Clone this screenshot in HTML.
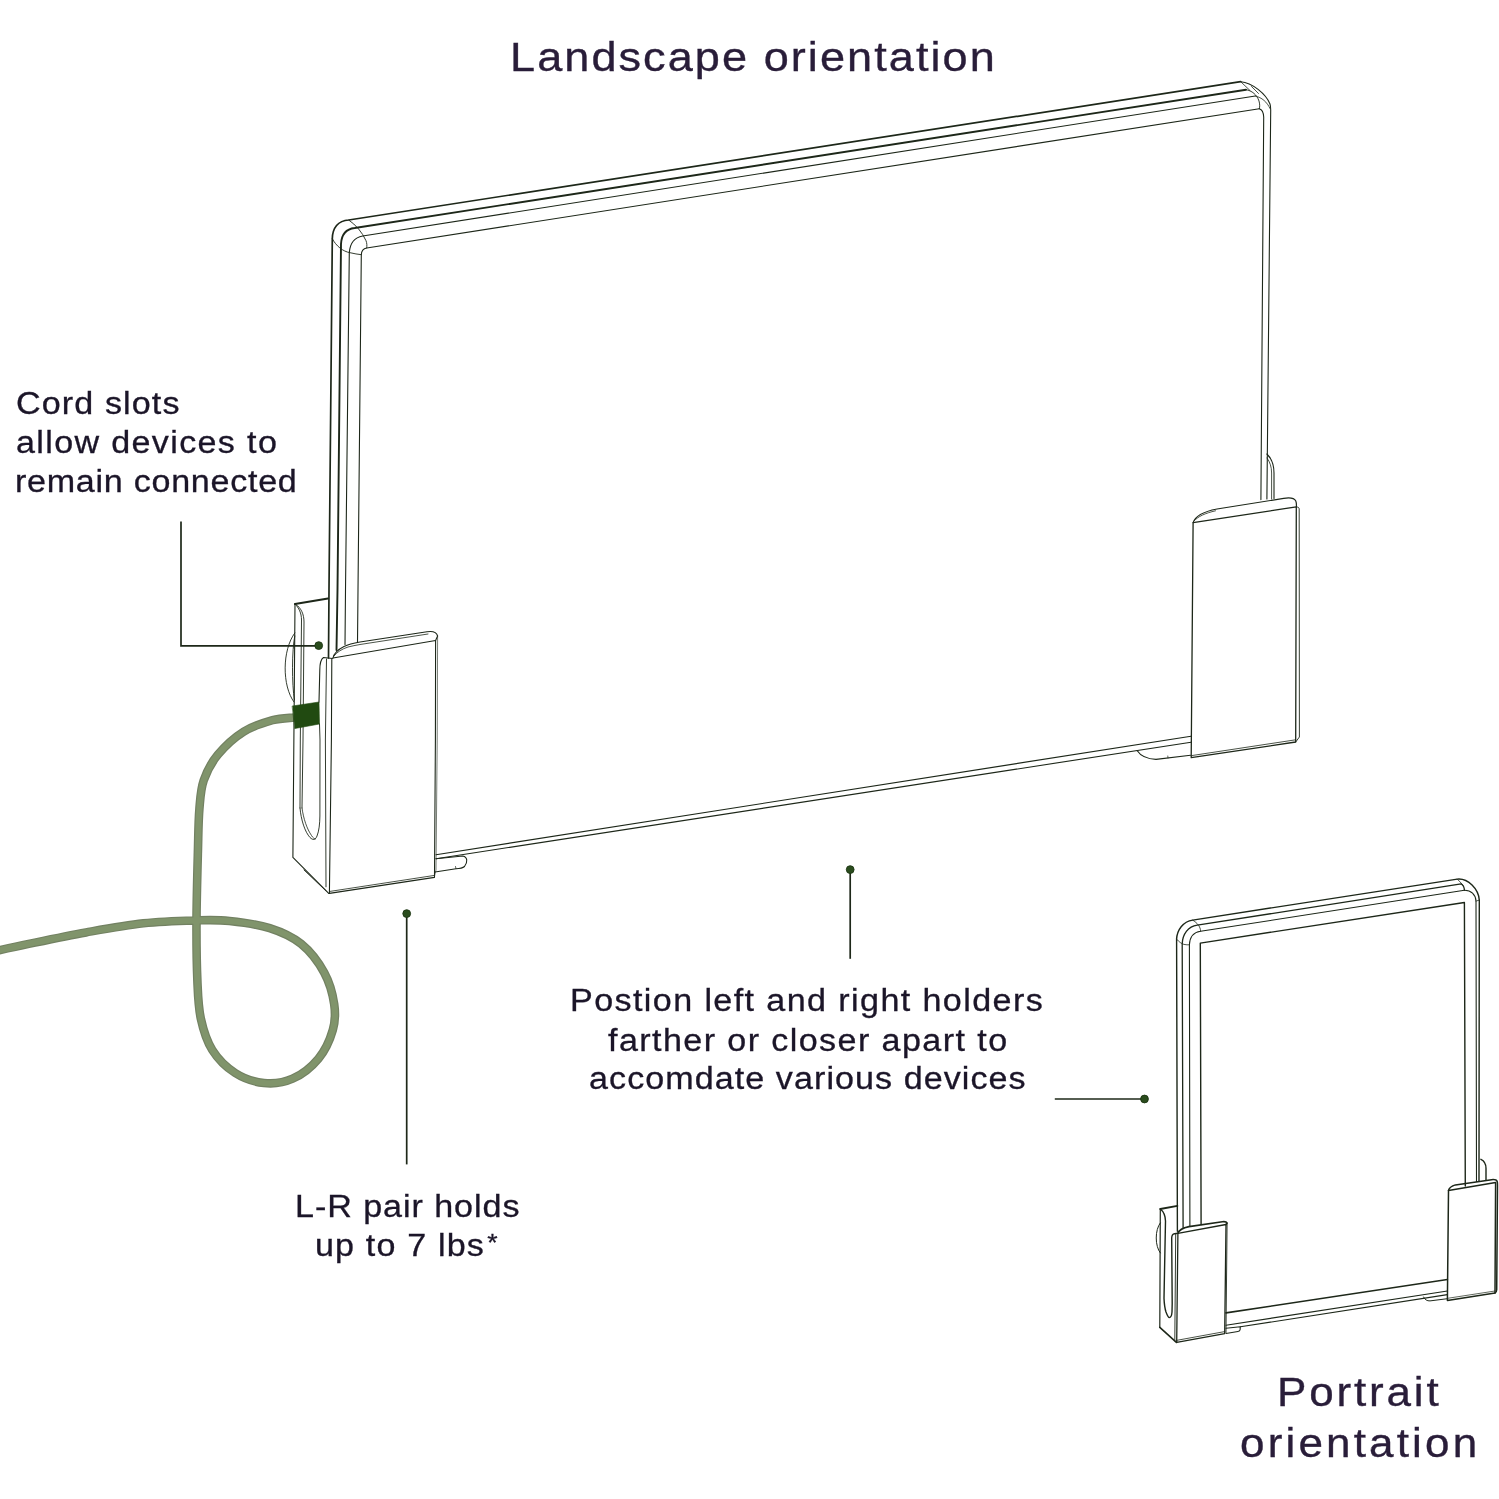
<!DOCTYPE html>
<html>
<head>
<meta charset="utf-8">
<title>Device holder orientations</title>
<style>
html,body{margin:0;padding:0;background:#fff;}
body{width:1499px;height:1499px;position:relative;overflow:hidden;font-family:"Liberation Sans",sans-serif;color:#261c38;}
svg{position:absolute;left:0;top:0;}
.t{position:absolute;white-space:nowrap;line-height:1;transform:scaleX(1.10);transform-origin:0 0;will-change:transform;}
.h{font-size:41px;color:#291d39;-webkit-text-stroke:0.35px #291d39;}
.b{font-size:31px;color:#1b1528;-webkit-text-stroke:0.3px #1b1528;}
</style>
</head>
<body>
<svg width="1499" height="1499" viewBox="0 0 1499 1499">
<g id="cable">
<path d="M294.0 717.5 C290.4 718.0 280.9 717.9 272.5 720.2 C264.1 722.6 252.9 725.9 243.8 731.6 C234.7 737.3 224.7 746.5 218.0 754.6 C211.3 762.7 206.8 771.3 203.7 780.4 C200.6 789.5 200.4 797.1 199.4 809.0 C198.4 820.9 198.4 833.3 197.9 852.0 C197.4 870.7 196.6 899.5 196.5 921.0 C196.4 942.5 196.7 965.0 197.4 981.2 C198.1 997.5 198.3 1007.0 200.8 1018.5 C203.3 1030.0 206.6 1040.9 212.3 1050.0 C218.0 1059.1 226.6 1067.5 235.2 1073.0 C243.8 1078.5 254.3 1082.0 263.9 1083.0 C273.5 1084.0 283.5 1082.8 292.6 1078.7 C301.7 1074.7 311.7 1066.8 318.4 1058.7 C325.1 1050.6 330.2 1039.1 332.8 1030.0 C335.4 1020.9 335.6 1013.8 334.2 1004.2 C332.8 994.6 329.7 982.7 324.2 972.6 C318.7 962.5 310.3 951.3 301.2 943.9 C292.1 936.5 281.6 931.9 269.7 928.1 C257.8 924.3 241.7 922.3 229.5 921.0 C217.3 919.7 210.8 920.0 196.5 920.4 C182.2 920.8 161.8 921.3 143.4 923.3 C125.0 925.3 105.1 929.0 86.0 932.4 C66.9 935.8 44.0 940.7 28.7 943.9 C13.4 947.1 -0.2 950.2 -6.0 951.5" fill="none" stroke="#728162" stroke-width="8.6" stroke-linecap="butt"/>
<path d="M294.0 717.5 C290.4 718.0 280.9 717.9 272.5 720.2 C264.1 722.6 252.9 725.9 243.8 731.6 C234.7 737.3 224.7 746.5 218.0 754.6 C211.3 762.7 206.8 771.3 203.7 780.4 C200.6 789.5 200.4 797.1 199.4 809.0 C198.4 820.9 198.4 833.3 197.9 852.0 C197.4 870.7 196.6 899.5 196.5 921.0 C196.4 942.5 196.7 965.0 197.4 981.2 C198.1 997.5 198.3 1007.0 200.8 1018.5 C203.3 1030.0 206.6 1040.9 212.3 1050.0 C218.0 1059.1 226.6 1067.5 235.2 1073.0 C243.8 1078.5 254.3 1082.0 263.9 1083.0 C273.5 1084.0 283.5 1082.8 292.6 1078.7 C301.7 1074.7 311.7 1066.8 318.4 1058.7 C325.1 1050.6 330.2 1039.1 332.8 1030.0 C335.4 1020.9 335.6 1013.8 334.2 1004.2 C332.8 994.6 329.7 982.7 324.2 972.6 C318.7 962.5 310.3 951.3 301.2 943.9 C292.1 936.5 281.6 931.9 269.7 928.1 C257.8 924.3 241.7 922.3 229.5 921.0 C217.3 919.7 210.8 920.0 196.5 920.4 C182.2 920.8 161.8 921.3 143.4 923.3 C125.0 925.3 105.1 929.0 86.0 932.4 C66.9 935.8 44.0 940.7 28.7 943.9 C13.4 947.1 -0.2 950.2 -6.0 951.5" fill="none" stroke="#80946b" stroke-width="6.2" stroke-linecap="butt"/>
</g>
<g id="landscape" fill="none" stroke="#1d2719" stroke-width="1.1" stroke-linecap="round" stroke-linejoin="round">
<!-- back plate of left holder -->
<path d="M295 604 L328 598.5" stroke-width="2"/>
<path d="M295 604 L292.9 857.4 L328.7 893.4"/>
<path d="M304 870 L326 890.8" stroke-width="0.9"/>
<path d="M295 604 C299 608 301.5 613 301.5 620 L300.3 740 L300 808" stroke-width="0.9"/>
<path d="M296 604.5 C301 608 304 614 304 622 L303 740 L302 808" stroke-width="0.9"/>
<!-- slot -->
<path d="M300 808 C301 820 305 832 310 837.5 C313 840.5 315.5 840 317 836 C319 831 319.8 824 319.9 816 L320 740 L319.5 724" stroke-width="0.9"/>
<path d="M302 808 C303.5 819 307 829 311.5 835.5 C313 838 314.5 839 315.5 839" stroke-width="0.8"/>
<!-- disc arcs -->
<path d="M294.8 633 C282 650 282 686 294 702" stroke-width="0.9"/>
<path d="M294.8 636 C291.8 650 291.8 684 294.4 700" stroke-width="0.9"/>
<!-- plug -->
<path d="M292.5 706 L319 702 L319.5 724 L295 728.5 Z" fill="#214a11" stroke="#214a11" stroke-width="0.6"/>
<!-- side wall of front holder -->
<path d="M319 702 L319.8 670 C319.8 664 320.5 659.5 323.5 657.5 L332.5 658.5" />
<path d="M326.5 659 L325.4 740 L326 886.8" stroke-width="0.9"/>
<path d="M331.8 659 L331.4 740 L329.4 893.4"/>
<!-- front face -->
<path d="M333 658 L435.6 640.5 L435.4 740 L434.5 877.4 L329.4 893.4"/>
<path d="M330 891.4 L434.5 875.4" stroke-width="0.8"/>
<path d="M437.6 636 L437.2 740 L436 870 L434.5 876" stroke-width="0.6"/>
<!-- flap -->
<path d="M333 658 C334 653 338 649.5 344 646.5 C349 644 354 643 360 642 L427 631.8 C432 631 436.5 632 437.6 636 L435.6 640.5"/>
<path d="M334 656 C337 652 342 649 348 647 C352 646 356 645.2 360 644.5 L428 634" stroke-width="0.8"/>
<!-- laptop left verticals -->
<path d="M328.5 658 L329 590 L332.3 238.7 C332.5 228 338 220.5 348.7 220 L1240.7 81.7" stroke-width="1.7"/>
<path d="M336.5 650 L337.5 590 L341 244 C341.5 234.5 346 229 354.7 228 L1246 89.7" stroke-width="1.9"/>
<path d="M345 644.5 L345.5 590 L349.3 252.7 C350 243 354 237.5 362.7 236 L1255.3 96" />
<path d="M357.5 642 L358 590 L361.3 254.7 C361.5 250.5 363.5 248.5 366.7 248 L1259.3 108.7"/>
<!-- top-left corner cross lines -->
<path d="M332.3 238.7 C336 246 343 251.5 350 252.7 C354 253.5 358 254.5 361.3 254.7" stroke-width="0.9"/>
<path d="M348.7 220 C356 225 362 232 366 240.7 C367 243 367 246 366.7 248" stroke-width="0.9"/>
<!-- top-right corner -->
<path d="M1240.7 81.7 C1252 82.5 1266 94 1270 104 C1270.6 106 1270.7 108 1270.7 110 L1266.9 499" />
<path d="M1246 89.7 C1252 90.5 1257 95 1259 101 C1259.8 104 1260 106.5 1259.3 108.7" stroke-width="0.9"/>
<path d="M1259.3 108.7 C1262 109.5 1263.5 112.5 1263.7 117 L1260.9 499.6"/>
<path d="M1240.7 81.7 L1250 90.5" stroke-width="0.8"/>
<path d="M1251.5 86.5 L1258.5 93.5" stroke-width="0.8"/>
<path d="M1255.3 96 C1262 97.5 1267 102 1270 108.5" stroke-width="0.8"/>
<!-- bottom edge -->
<path d="M436 854.7 L1191 736.2"/>
<path d="M436 858.7 L1191 742.2"/>
<!-- left foot -->
<path d="M436 858.7 L462.8 856 C467.5 857 468 862 464.5 866.5 C462.5 868.2 460 868.6 456 868.7 L435 872"/>
<path d="M456 868.7 L455.5 866.5" stroke-width="0.7"/>
<!-- right foot -->
<path d="M1137 750.5 C1140 755 1146 759 1156 759.4 L1190.5 755.3"/>
<path d="M1168 758 L1167.8 756" stroke-width="0.7"/>
<!-- right holder -->
<path d="M1193.1 522.7 L1296.3 506.8 L1295.7 742 L1191.2 757.7 Z" stroke-width="1.3"/>
<path d="M1191.6 755.6 L1295.7 739.8" stroke-width="0.8"/>
<path d="M1296.5 506.9 C1298.3 507 1299.1 507.6 1299.2 509 L1299.4 737 L1295.7 742" stroke-width="0.9"/>
<path d="M1193.1 522.7 C1195 516.5 1204 511.5 1217 509 L1283.7 498.4 C1290 497.4 1294.5 498.5 1295.8 501 C1296.4 502.5 1296.5 504.5 1296.4 506.8" stroke-width="1.2"/>
<path d="M1194 521 C1198 516.5 1205 513.2 1215.5 510.8" stroke-width="0.8"/>
<!-- right holder back piece -->
<path d="M1266.9 454 C1271 458 1274 465 1274 473 L1274 498.5"/>
<path d="M1267 458 C1270 462 1271.6 467 1271.6 473 L1271.6 499" stroke-width="0.8"/>
</g>
<g id="portrait" fill="none" stroke="#1d2719" stroke-width="1.1" stroke-linecap="round" stroke-linejoin="round">
<!-- tablet outlines -->
<path d="M1177.4 1231.2 L1176.6 939.2 C1177 930 1183 921.5 1192.7 920.1 L1457.3 879.1 C1468 878 1478.6 889 1479.3 900.1 L1479 1181" stroke-width="1.4"/>
<path d="M1183.1 1228 L1182.2 943.9 C1182.5 934 1188 926.5 1197.3 925.2 L1461.1 883.8 C1463.5 885.5 1464.4 887.5 1464.4 890.3" stroke-width="1.3"/>
<path d="M1189.9 1226.5 L1189.4 944.8 C1189.8 937 1193.5 932.2 1200.6 931.3 L1464.4 890.3 C1471 890.2 1475.6 894.5 1476 901.1 L1476.5 1181.5" stroke-width="1.1"/>
<path d="M1201.1 1224.6 L1200.3 943.1 L1464.4 902.5 L1465.3 1186" stroke-width="1.4"/>
<!-- corner cross lines -->
<path d="M1176.6 939.2 C1179 942 1182 943.9 1184 944.4 C1186 944.9 1188 944.9 1189.4 944.8" stroke-width="0.8"/>
<path d="M1192.7 920.1 C1196 922 1199 925 1200 928 C1200.4 929.2 1200.6 930.3 1200.6 931.3" stroke-width="0.8"/>
<path d="M1457.3 879.1 L1463.3 885.3" stroke-width="0.8"/>
<path d="M1479.3 900.1 L1476 901.1" stroke-width="0.8"/>
<!-- bottom lines -->
<path d="M1226 1312.9 L1447.4 1279.5" stroke-width="1.6"/>
<path d="M1226 1325.2 L1447.4 1291" stroke-width="1.1"/>
<path d="M1240.4 1326.8 L1447.4 1294.6" stroke-width="1.1"/>
<path d="M1226 1328.2 L1240.3 1326.8 L1240.1 1329.8 C1240 1330.8 1239.2 1331.3 1237.9 1331.5 L1226 1333.5" stroke-width="1.1"/>
<path d="M1423.6 1297 C1425 1299.8 1427 1301 1430 1300.9 L1447.4 1298.7" stroke-width="1"/>
<!-- left holder -->
<path d="M1160.3 1209 L1177.4 1205.9" stroke-width="1.8"/>
<path d="M1160.3 1209 L1159.8 1327.4" stroke-width="1.2"/>
<path d="M1159.8 1327.4 L1176.4 1342.4" stroke-width="1.6"/>
<path d="M1160.3 1209 C1163.5 1211.5 1165.3 1215 1165.5 1220.9 L1164 1298.4 C1164.3 1305 1165 1309 1166 1312 C1167.3 1315.5 1168.3 1317.6 1169.3 1317.6 C1170.8 1317.5 1171.7 1316 1172 1312 L1172.2 1303.6 L1171.7 1238 C1171.8 1235 1172.6 1233.9 1174.5 1233.7 L1177.9 1233.3" stroke-width="1.4"/>
<path d="M1160.3 1222.9 C1154.8 1230 1154.8 1246 1160.3 1252.9" stroke-width="1"/>
<path d="M1175.7 1234.3 L1174.8 1340.9" stroke-width="0.9"/>
<path d="M1177.9 1233.3 L1226 1224.5 L1224.7 1333.6 L1176.7 1342.4 Z" stroke-width="1.3"/>
<path d="M1177 1340.3 L1224.7 1331.6" stroke-width="0.8"/>
<path d="M1177.9 1233.3 C1179 1230 1182 1228 1189 1226.6 L1222.4 1221.7 C1225 1221.4 1226.5 1221.6 1227.1 1223 L1226 1224.5" stroke-width="1.6"/>
<path d="M1227.1 1223 L1226 1332.6" stroke-width="0.9"/>
<!-- right holder -->
<path d="M1448.5 1190.5 L1495.6 1182.5 L1495 1293.1 L1447.4 1300.4 Z" stroke-width="1.5"/>
<path d="M1448.5 1190.5 C1449.3 1187.5 1451.5 1186 1455.4 1184.9 L1491.6 1179.7 C1494.5 1179.4 1496.5 1179.8 1497.2 1181.5 C1497.5 1182.5 1497.5 1184 1497.5 1185.4 L1496.7 1289.7 C1496.6 1291.5 1496 1292.6 1495 1293.1" stroke-width="1.5"/>
<path d="M1447.6 1298.3 L1495 1291" stroke-width="0.7"/>
<path d="M1480.9 1159.3 C1483.5 1160.5 1486 1164 1486 1168.3 L1486 1180.4" stroke-width="1.4"/>
</g>
<g id="callouts" fill="none" stroke="#1e2819" stroke-width="1.7">
<path d="M181 521.4 L181 645.8 L318 645.8"/>
<path d="M406.7 913.6 L406.7 1164.4"/>
<path d="M850.2 869.6 L850.2 958.8"/>
<path d="M1054.8 1099 L1144.5 1099"/>
<g fill="#2a4c1d" stroke="#1d3613" stroke-width="0.9">
<circle cx="318.7" cy="645.6" r="3.9"/>
<circle cx="406.7" cy="913.6" r="3.9"/>
<circle cx="850.2" cy="869.6" r="3.9"/>
<circle cx="1144.5" cy="1099" r="3.9"/>
</g>
</g>
</svg>
<div class="t h" style="left:510.3px;top:36.6px;font-size:41px;letter-spacing:1.86px;">Landscape orientation</div>
<div class="t b" style="left:16.0px;top:387.7px;font-size:31px;letter-spacing:1.01px;">Cord slots</div>
<div class="t b" style="left:16.0px;top:426.6px;font-size:31px;letter-spacing:1.22px;">allow devices to</div>
<div class="t b" style="left:15.3px;top:465.6px;font-size:31px;letter-spacing:0.65px;">remain connected</div>
<div class="t b" style="left:295.1px;top:1191.0px;font-size:31px;letter-spacing:0.85px;">L-R pair holds</div>
<div class="t b" style="left:314.6px;top:1229.6px;font-size:31px;letter-spacing:1.04px;">up to 7 lbs<span style="font-size:0.78em;vertical-align:0.22em;margin-left:2px;">*</span></div>
<div class="t b" style="left:570.3px;top:985.3px;font-size:31px;letter-spacing:1.27px;">Postion left and right holders</div>
<div class="t b" style="left:608.3px;top:1024.5px;font-size:31px;letter-spacing:1.28px;">farther or closer apart to</div>
<div class="t b" style="left:588.9px;top:1062.6px;font-size:31px;letter-spacing:0.96px;">accomdate various devices</div>
<div class="t h" style="left:1277.2px;top:1371.6px;font-size:40px;letter-spacing:2.57px;">Portrait</div>
<div class="t h" style="left:1240.3px;top:1423.1px;font-size:40px;letter-spacing:2.88px;">orientation</div>
</body>
</html>
